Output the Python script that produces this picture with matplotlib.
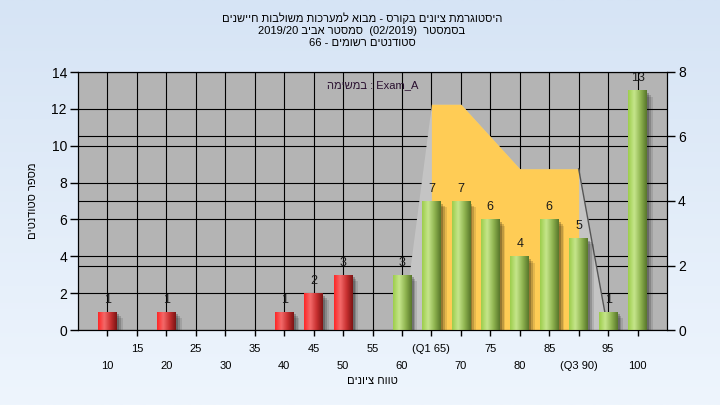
import re
import numpy as np
import matplotlib.pyplot as plt
import matplotlib.transforms as mtransforms
from matplotlib.colors import LinearSegmentedColormap
from matplotlib.patches import Rectangle

plt.rcParams['font.family'] = ['Liberation Sans', 'DejaVu Sans']

# data
grades = [10, 15, 20, 25, 30, 35, 40, 45, 50, 55, 60, 65, 70, 75, 80, 85, 90, 95, 100]
counts = [1, 0, 1, 0, 0, 0, 1, 2, 3, 0, 3, 7, 7, 6, 4, 6, 5, 1, 13]
tick_labels = ['10', '15', '20', '25', '30', '35', '40', '45', '50', '55', '60',
               '(Q1 65)', '70', '75', '80', '85', '(Q3 90)', '95', '100']
pass_grade = 60
# spread band on the right axis
area_grades = [60, 65, 70, 75, 80, 85, 90, 95]
area_values = [0, 7, 7, 6, 5, 5, 5, 0]
q1, q3 = 65, 90

title_lines = ['היסטוגרמת ציונים בקורס - מבוא למערכות משולבות חיישנים',
               'בסמסטר  (02/2019)  סמסטר אביב 2019/20',
               'סטודנטים רשומים - 66']
xlabel = 'טווח ציונים'
ylabel = 'מספר סטודנטים'
task_word = 'במשימה'
task_name = 'Exam_A'


def rtl(s):
    # matplotlib has no bidi: put hebrew in visual order, keep numbers/latin runs
    parts = re.findall(r'[0-9A-Za-z_/.]+|[^0-9A-Za-z_/.]', s)
    mirror = {'(': ')', ')': '('}
    return ''.join(mirror.get(p, p) for p in parts[::-1])


fig = plt.figure(figsize=(7.2, 4.05), dpi=100)

# light blue background gradient
bg = fig.add_axes([0, 0, 1, 1], zorder=-10)
bg.imshow(np.linspace(0, 1, 256).reshape(-1, 1), aspect='auto', extent=[0, 1, 0, 1],
          cmap=LinearSegmentedColormap.from_list('bg', ['#d6e4f5', '#eef5fd']))
bg.axis('off')

ax = fig.add_axes([78 / 720, 1 - 330 / 405, 589 / 720, 258 / 405])
ax.set_facecolor('#b4b4b4')
ax2 = ax.twinx()
ax.set_ylim(0, 14)
ax2.set_ylim(0, 8)
ax.set_xlim(-1, len(grades))

idx = np.arange(len(grades))

# gridlines
ax.set_axisbelow(True)
ax.grid(True, which='both', color='black', lw=0.8)
tr_right = mtransforms.blended_transform_factory(ax.transAxes, ax2.transData)
for v in [2, 4, 6]:
    ax.plot([0, 1], [v, v], color='black', lw=0.8, transform=tr_right, zorder=0.5)

# spread area (plotted in right-axis units, but under the bars)
ai = [grades.index(g) for g in area_grades]
ax.fill_between(ai, area_values, color='#c4c4c4', lw=0, transform=ax2.transData, zorder=1)
inner = [k for k, g in enumerate(area_grades) if q1 <= g <= q3]
ax.fill_between([ai[k] for k in inner], [area_values[k] for k in inner],
                color='#ffcc55', lw=0, transform=ax2.transData, zorder=1.1)
ax.plot(ai[-2:], area_values[-2:], color='#555555', lw=1, transform=ax2.transData, zorder=1.2)

# bars with cylinder shading and soft shadow
red_cm = LinearSegmentedColormap.from_list('r', ['#ff2424', '#f46a6a', '#c83030', '#7a1414'])
green_cm = LinearSegmentedColormap.from_list('g', ['#9ccc4a', '#c6e68c', '#8fb450', '#56752a'])
grad = np.linspace(0, 1, 256).reshape(1, -1)
w = 0.63
bars = ax.bar(idx, counts, width=w, color='none', zorder=3)
for i, (b, c, g) in enumerate(zip(bars, counts, grades)):
    if c == 0:
        continue
    x0 = i - w / 2
    for dx, dy, a in [(0.08, 0.15, 0.22), (0.14, 0.25, 0.16), (0.2, 0.35, 0.1)]:
        ax.add_patch(Rectangle((x0 + dx, -dy), w, c, color='black', alpha=a, lw=0, zorder=2))
    im = ax.imshow(grad, cmap=green_cm if g >= pass_grade else red_cm, aspect='auto',
                   extent=(x0, x0 + w, 0, c), interpolation='bicubic', zorder=3.1)
    im.set_clip_path(b)
    ax.text(i, c + 0.65, str(c), ha='center', va='center', fontsize=9, color='#1a1a1a', zorder=4)

ax.set_xlim(-1, len(grades))
ax.set_ylim(0, 14)

# ticks
ax.set_yticks(range(0, 15, 2))
ax2.set_yticks(range(0, 9, 2))
ax.tick_params(axis='y', direction='out', length=6, width=1, labelsize=10, pad=2)
ax2.tick_params(axis='y', direction='out', length=6, width=1, labelsize=10, pad=2)
ax.set_xticks(idx[0::2], tick_labels[0::2])
ax.set_xticks(idx[1::2], tick_labels[1::2], minor=True)
ax.tick_params(axis='x', which='major', length=4, width=1, pad=18, labelsize=8)
ax.tick_params(axis='x', which='minor', length=4, width=1, pad=6, labelsize=8)
for s in list(ax.spines.values()) + list(ax2.spines.values()):
    s.set_color('black')

ax.text(0.5, 0.95, rtl(task_word) + ' : ' + task_name, transform=ax.transAxes,
        ha='center', va='center', fontsize=8, color='#2a1030', zorder=5)

for k, line in enumerate(title_lines):
    fig.text(362 / 720, 1 - (18 + 12.5 * k) / 405, rtl(line), ha='center', va='center', fontsize=8)
fig.text(372 / 720, 1 - 381 / 405, rtl(xlabel), ha='center', va='center', fontsize=8)
fig.text(33 / 720, 1 - 201 / 405, rtl(ylabel), ha='center', va='center', fontsize=8, rotation=90)

fig.savefig('out.png', dpi=100)
